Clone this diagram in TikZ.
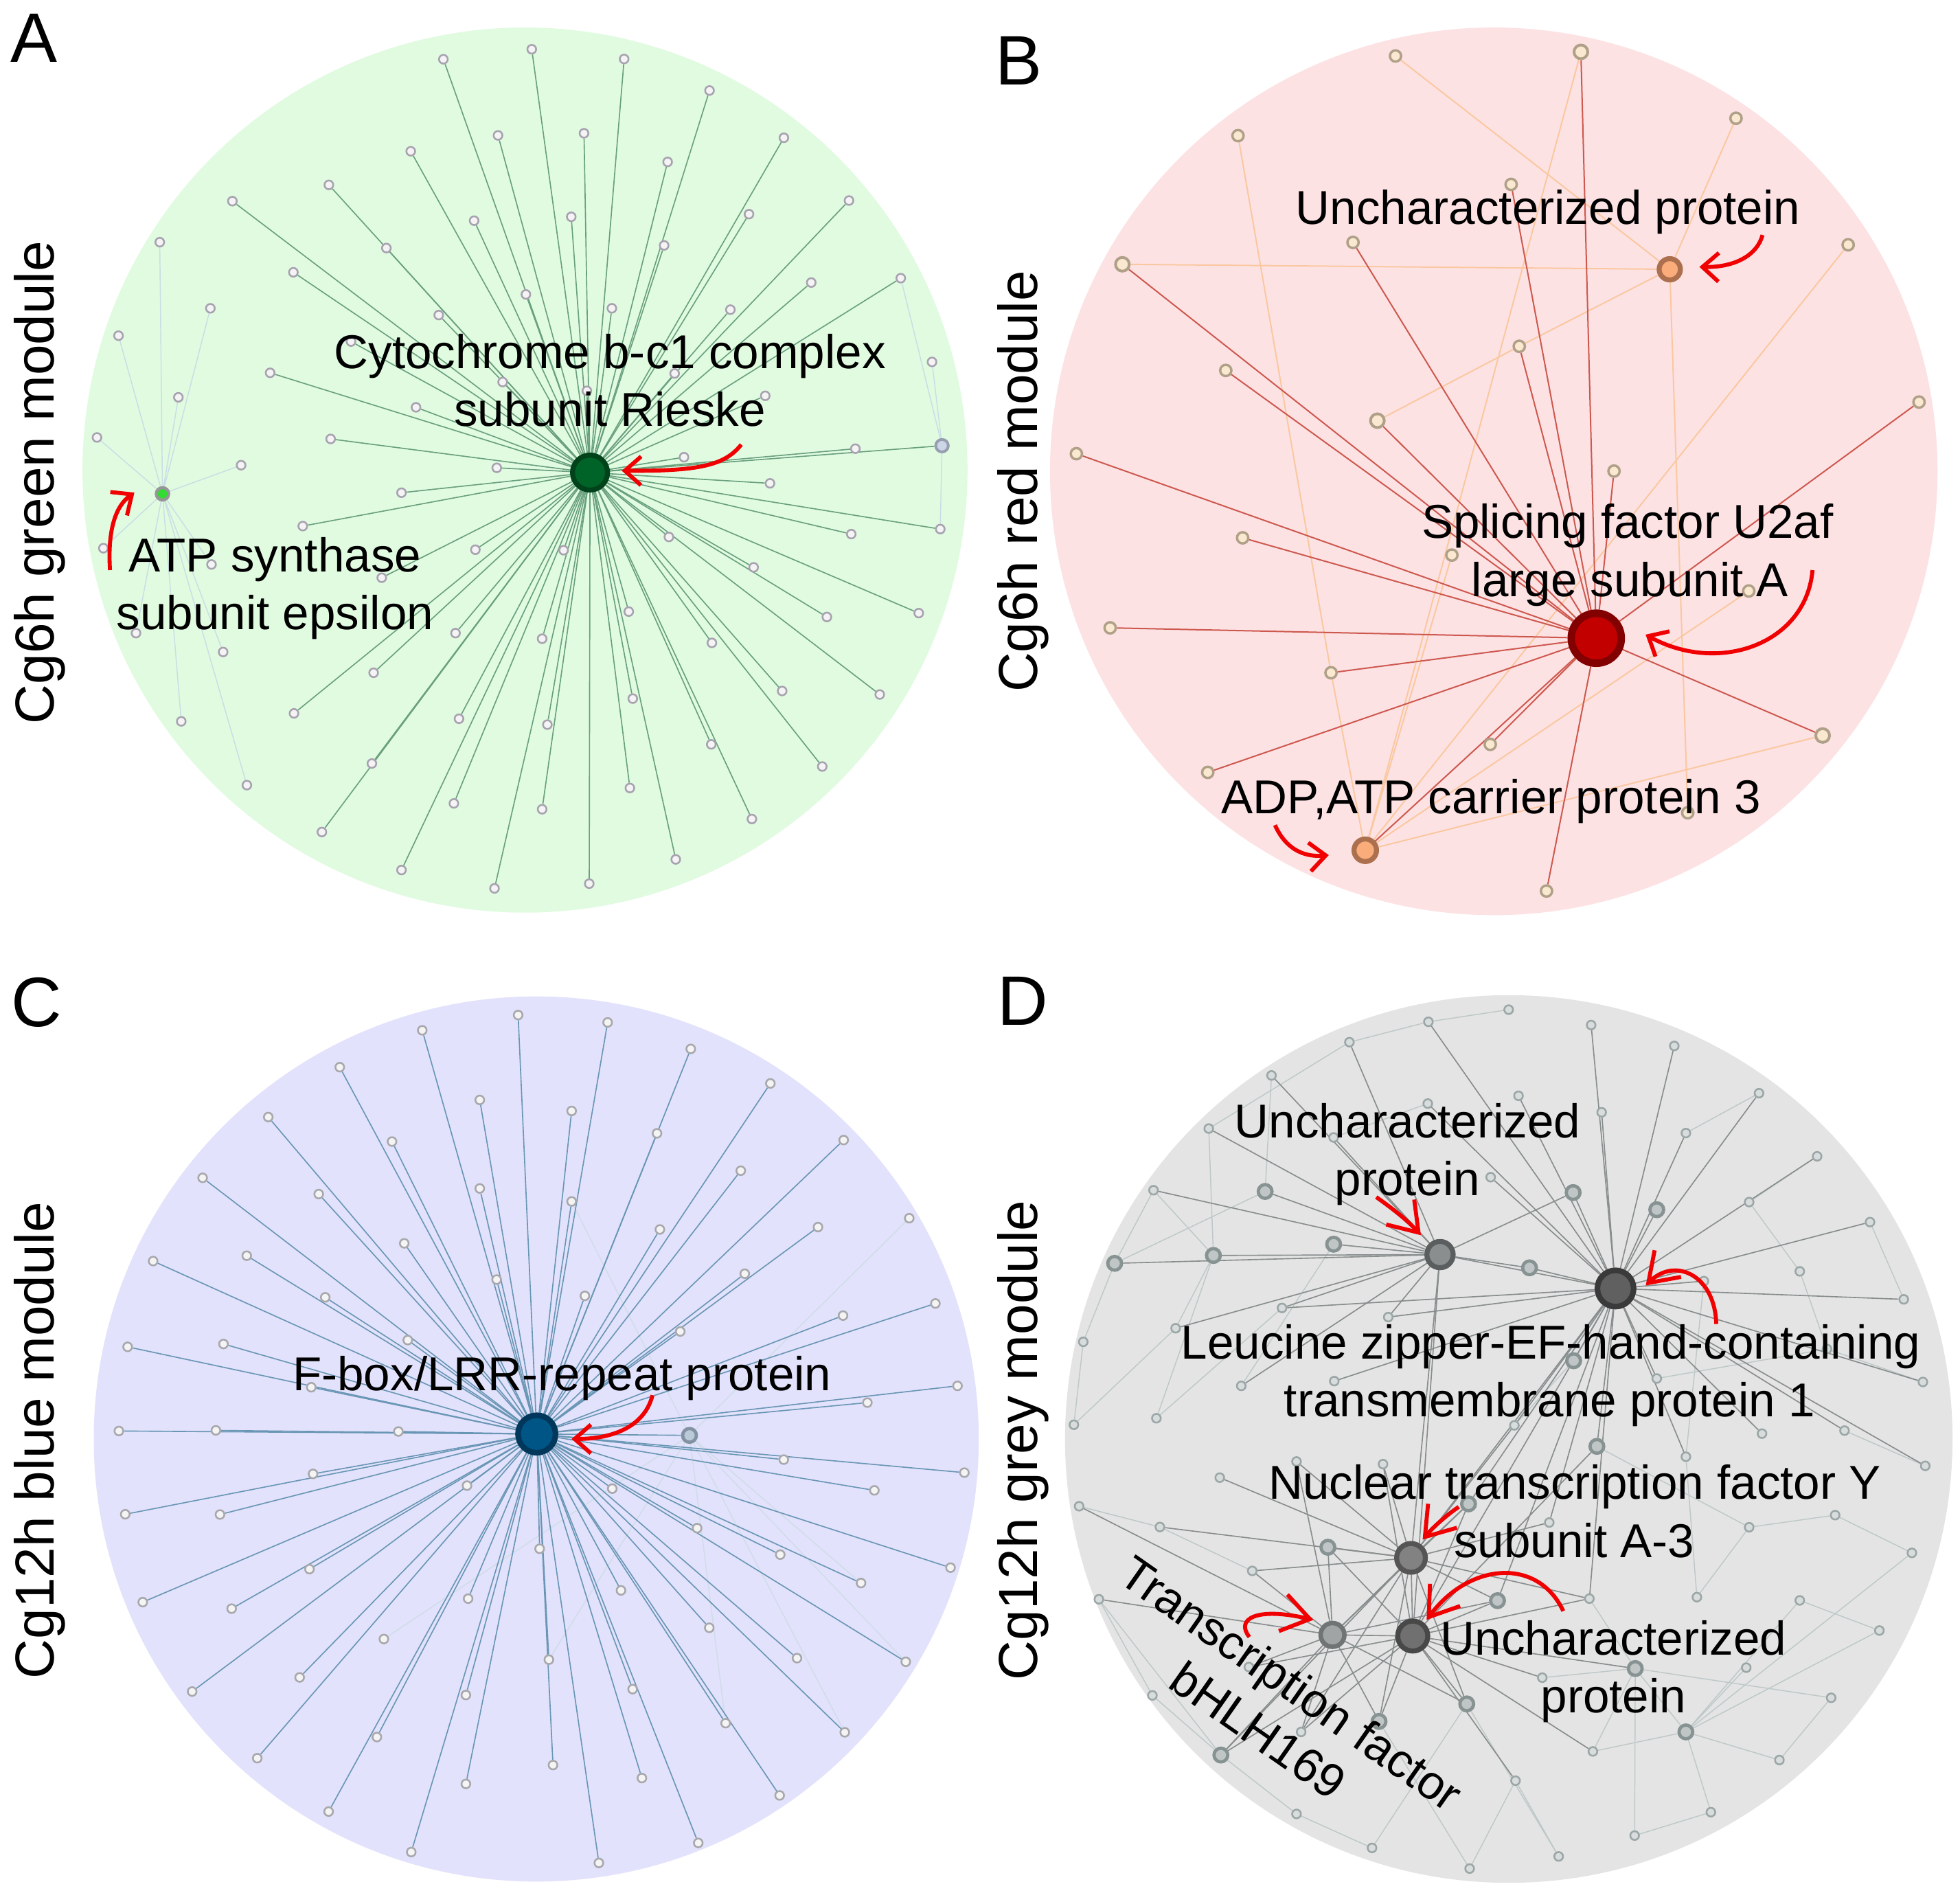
\documentclass[tikz,border=0pt]{standalone}
\usepackage{fontspec}
\setmainfont{Liberation Sans}
\usetikzlibrary{arrows.meta}
\pgfdeclarelayer{bg}
\pgfdeclarelayer{edges}
\pgfsetlayers{bg,edges,main}
\definecolor{bgA}{RGB}{225,251,225}
\definecolor{bgB}{RGB}{253,226,228}
\definecolor{bgC}{RGB}{226,226,252}
\definecolor{bgD}{RGB}{228,228,228}
\definecolor{eA}{RGB}{105,160,125}
\definecolor{eAf}{RGB}{200,222,228}
\definecolor{eBd}{RGB}{205,88,78}
\definecolor{eBl}{RGB}{250,200,160}
\definecolor{eC}{RGB}{105,150,180}
\definecolor{eCf}{RGB}{208,220,232}
\definecolor{eDd}{RGB}{135,140,140}
\definecolor{eDl}{RGB}{190,200,200}
\definecolor{arrowred}{RGB}{240,0,0}
\definecolor{nbord}{RGB}{168,162,176}
\definecolor{nfill}{RGB}{244,244,244}
\definecolor{bfill}{RGB}{250,232,208}
\definecolor{bbord}{RGB}{176,160,136}
\definecolor{dfill}{RGB}{216,220,220}
\definecolor{dbord}{RGB}{155,166,166}
\definecolor{mfill}{RGB}{192,198,198}
\definecolor{mbord}{RGB}{135,146,146}
\tikzset{
  lab/.style={font=\fontsize{38}{46}\selectfont, inner sep=0pt, anchor=base},
  side/.style={font=\fontsize{44}{50}\selectfont, inner sep=0pt, anchor=base, rotate=90},
  letter/.style={font=\fontsize{56}{60}\selectfont, inner sep=0pt, anchor=base west},
  nd/.style={circle, inner sep=0pt, minimum size=7pt, line width=1.4pt, draw=nbord, fill=nfill},
  ndB/.style={nd, minimum size=9pt, line width=1.9pt, draw=bbord, fill=bfill},
  ndBb/.style={ndB, minimum size=11pt, line width=2.2pt},
  ndD/.style={nd, draw=dbord, fill=dfill},
  ndDm/.style={nd, minimum size=11pt, line width=2.6pt, draw=mbord, fill=mfill},
  eAs/.style={draw=eA, line width=0.9pt},
  eAfs/.style={draw=eAf, line width=0.8pt},
  eBds/.style={draw=eBd, line width=1.1pt},
  eBls/.style={draw=eBl, line width=1.1pt},
  eCs/.style={draw=eC, line width=0.9pt},
  eCfs/.style={draw=eCf, line width=0.8pt},
  eDds/.style={draw=eDd, line width=0.9pt},
  eDls/.style={draw=eDl, line width=0.8pt},
  redarrow/.style={draw=arrowred, line width=3.2pt, -{Straight Barb[length=13pt,width=23pt]}},
  redarrowD/.style={draw=arrowred, line width=3.2pt, -{Straight Barb[length=22pt,width=30pt]}}
}
\begin{document}
\begin{tikzpicture}[x=1pt,y=-1pt]
\useasboundingbox (0,0) rectangle (1568,1514);
\begin{pgfonlayer}{bg}
\fill[white] (0,0) rectangle (1568,1514);
\fill[bgA] (420,376) circle (354);
\fill[bgB] (1195,377) circle (355);
\fill[bgC] (429,1151) circle (354);
\fill[bgD] (1207,1151) circle (355);
\end{pgfonlayer}

% ---------------- Panel A ----------------
\node[circle, inner sep=0pt, minimum size=28pt, line width=4pt, draw={rgb,255:red,0;green,66;blue,26}, fill={rgb,255:red,0;green,100;blue,40}] (ha) at (472,378) {};
\node[nd, minimum size=10pt, line width=2.4pt, draw={rgb,255:red,150;green,150;blue,150}, fill={rgb,255:red,50;green,220;blue,50}] (atp) at (130,395) {};
\node[nd, minimum size=10pt, line width=2.2pt, draw={rgb,255:red,150;green,158;blue,175}, fill={rgb,255:red,205;green,214;blue,230}] (ar) at (753.6,356.5) {};
\foreach \i/\x/\y in {1/354.7/47.4, 2/425.4/39.4, 3/499.3/47.2, 4/567.6/72.4, 5/398.4/108.3, 6/467.2/106.6, 7/627.1/110.2, 8/328.6/121.0, 9/534.1/129.5, 10/263.1/147.9, 11/185.9/160.9, 12/679.2/160.4, 13/379.3/176.5, 14/457.0/173.4, 15/599.2/171.3, 16/309.1/198.4, 17/531.3/196.3, 18/234.7/217.8, 19/649.0/226.0, 20/720.6/222.5, 21/420.7/235.5, 22/351.0/252.0, 23/489.5/246.6, 24/584.3/247.7, 25/280.8/273.2, 26/216.1/298.2, 27/539.7/298.7, 28/402.1/305.6, 29/469.5/312.6, 30/612.2/316.6, 31/332.8/325.8, 32/264.5/351.1, 33/684.3/358.9, 34/547.2/365.7, 35/397.4/374.2, 36/321.2/394.1, 37/616.0/386.6, 38/242.2/420.8, 39/752.2/423.2, 40/681.0/427.2, 41/535.1/429.5, 42/380.3/439.7, 43/450.9/440.1, 44/602.9/453.8, 45/305.4/462.1, 46/503.0/489.2, 47/735.0/490.4, 48/661.5/493.5, 49/364.4/506.4, 50/433.7/510.9, 51/569.5/514.2, 52/298.9/538.1, 53/625.7/552.7, 54/703.8/555.5, 55/506.2/558.8, 56/235.2/570.6, 57/367.2/574.9, 58/437.9/579.6, 59/569.0/595.4, 60/297.5/610.7, 61/657.8/613.1, 62/503.9/630.3, 63/363.1/642.6, 64/433.7/647.3, 65/601.5/655.1, 66/257.5/665.5, 67/540.6/687.4, 68/321.2/695.9, 69/395.6/710.6, 70/471.4/706.8}
  \node[nd] (a\i) at (\x,\y) {};
\foreach \i/\x/\y in {1/127.8/193.7, 2/168.3/246.6, 3/94.8/268.5, 4/142.7/317.8, 5/77.6/349.9, 6/192.9/372.1, 7/82.7/438.5, 8/169.2/451.5, 9/108.8/506.4, 10/178.5/521.5, 11/145.0/577.0, 12/197.5/628.0, 13/745.6/289.5}
  \node[nd] (f\i) at (\x,\y) {};
\begin{pgfonlayer}{edges}
\foreach \i in {1,...,70} \draw[eAs] (ha) -- (a\i);
\draw[eAs] (ha) -- (ar);
\foreach \i in {1,...,12} \draw[eAfs] (atp) -- (f\i);
\draw[eAfs] (ar) -- (f13);
\draw[eAfs] (ar) -- (a20);
\draw[eAfs] (ar) -- (a39);
\end{pgfonlayer}

% ---------------- Panel B ----------------
\node[circle, inner sep=0pt, minimum size=40pt, line width=6pt, draw={rgb,255:red,130;green,0;blue,0}, fill={rgb,255:red,195;green,0;blue,0}] (hb) at (1277,510.5) {};
\node[circle, inner sep=0pt, minimum size=17pt, line width=4pt, draw={rgb,255:red,172;green,112;blue,78}, fill={rgb,255:red,250;green,172;blue,122}] (bu) at (1335.8,215.4) {};
\node[circle, inner sep=0pt, minimum size=18pt, line width=4pt, draw={rgb,255:red,172;green,112;blue,78}, fill={rgb,255:red,250;green,172;blue,122}] (bd) at (1092.2,680.1) {};
\foreach \i/\x/\y in {1/1116.4/44.8, 3/1388.8/94.6, 4/990.4/108.5, 5/1208.9/147.5, 6/1082.4/193.9, 7/1478.5/195.8, 9/1215.4/277.0, 10/980.6/296.3, 12/1535.2/321.6, 13/861.1/362.9, 14/1291.2/376.8, 15/994.1/430.2, 16/1161.5/444.0, 17/1399.0/472.7, 18/888.1/502.2, 19/1064.8/538.1, 20/1192.2/595.4, 22/966.2/617.8, 23/1350.2/650.1, 24/1237.2/712.7}
  \node[ndB] (b\i) at (\x,\y) {};
\foreach \i/\x/\y in {2/1264.7/41.5, 8/897.9/211.4, 11/1101.9/336.5, 21/1458.1/588.3}
  \node[ndBb] (b\i) at (\x,\y) {};
\begin{pgfonlayer}{edges}
\foreach \u/\v in {b1/bu, b3/bu, b8/bu, b9/bu, b9/b11, bu/b23, b4/b19, b19/bd, b2/bd, b7/bd, b16/bd, b17/bd, b21/bd}
  \draw[eBls] (\u) -- (\v);
\foreach \i in {2,5,6,8,9,10,11,12,13,14,15,18,19,20,21,22,24} \draw[eBds] (hb) -- (b\i);
\draw[eBds] (hb) -- (bd);
\end{pgfonlayer}

% ---------------- Panel C ----------------
\node[circle, inner sep=0pt, minimum size=30pt, line width=4.5pt, draw={rgb,255:red,0;green,55;blue,90}, fill={rgb,255:red,0;green,85;blue,135}] (hc) at (429.4,1147) {};
\node[circle, inner sep=0pt, minimum size=11pt, line width=2.6pt, draw={rgb,255:red,130;green,146;blue,162}, fill={rgb,255:red,186;green,202;blue,216}] (cg) at (551.6,1148.1) {};
\foreach \i/\x/\y in {1/414.5/811.9, 2/337.8/824.1, 3/486.1/817.8, 4/552.6/839.0, 5/271.8/853.6, 6/616.3/866.6, 7/383.8/879.8, 8/457.3/888.6, 9/214.6/893.5, 10/313.6/913.1, 11/525.6/906.5, 12/674.9/911.9, 13/162.1/942.1, 14/592.6/936.4, 15/255.0/955.1, 16/383.8/950.6, 17/457.3/961.0, 18/527.9/983.4, 19/654.4/981.5, 20/323.4/994.5, 21/122.5/1008.7, 22/197.4/1004.4, 23/397.3/1023.5, 24/595.8/1018.8, 25/260.2/1037.7, 26/467.9/1036.5, 27/748.3/1042.6, 28/674.4/1052.3, 29/326.2/1071.9, 30/544.2/1065.0, 31/102.1/1077.3, 32/178.8/1075.0, 33/249.0/1109.6, 34/766.0/1108.5, 35/693.9/1121.9, 36/95.1/1144.6, 37/172.7/1144.1, 38/318.7/1145.0, 39/250.4/1178.9, 40/627.0/1167.5, 41/771.5/1177.9, 42/373.6/1188.3, 43/489.8/1190.7, 44/699.5/1192.1, 45/100.2/1211.2, 46/176.0/1211.4, 47/557.7/1222.3, 48/431.7/1238.8, 49/624.2/1243.5, 50/247.6/1255.1, 51/760.4/1253.9, 52/688.8/1266.2, 53/496.8/1272.1, 54/114.2/1281.5, 55/185.3/1286.7, 56/374.5/1278.7, 57/567.4/1302.0, 58/307.1/1311.0, 59/439.1/1327.5, 60/637.6/1326.3, 61/724.6/1329.2, 62/153.7/1353.0, 63/239.7/1341.7, 64/506.1/1351.1, 65/372.7/1355.8, 66/580.5/1378.3, 67/675.8/1385.6, 68/301.5/1389.4, 69/205.8/1406.3, 70/442.4/1411.8, 71/513.5/1422.2, 72/372.7/1426.9, 73/623.7/1436.1, 74/262.9/1449.0, 75/558.6/1474.1, 76/329.0/1481.4, 77/479.1/1490.1, 78/727.4/974.4}
  \node[nd, draw={rgb,255:red,168;green,168;blue,172}] (c\i) at (\x,\y) {};
\begin{pgfonlayer}{edges}
\foreach \i in {58,59,61,66,67,78,52,17} \draw[eCfs] (cg) -- (c\i);
\foreach \i in {1,...,57,59,60,...,77} \draw[eCs] (hc) -- (c\i);
\draw[eCs] (hc) -- (cg);
\end{pgfonlayer}

% ---------------- Panel D ----------------
\node[circle, inner sep=0pt, minimum size=29pt, line width=4.5pt, draw={rgb,255:red,58;green,58;blue,58}, fill={rgb,255:red,96;green,96;blue,96}] (dl) at (1292.4,1030.6) {};
\node[circle, inner sep=0pt, minimum size=21pt, line width=4pt, draw={rgb,255:red,90;green,94;blue,94}, fill={rgb,255:red,138;green,142;blue,142}] (du1) at (1152,1003.5) {};
\node[circle, inner sep=0pt, minimum size=23pt, line width=4pt, draw={rgb,255:red,85;green,85;blue,85}, fill={rgb,255:red,130;green,130;blue,130}] (dn) at (1128.8,1246.1) {};
\node[circle, inner sep=0pt, minimum size=24pt, line width=4pt, draw={rgb,255:red,72;green,72;blue,72}, fill={rgb,255:red,112;green,112;blue,112}] (du2) at (1130.2,1308.6) {};
\node[circle, inner sep=0pt, minimum size=19pt, line width=3.6pt, draw={rgb,255:red,112;green,116;blue,116}, fill={rgb,255:red,160;green,164;blue,164}] (db) at (1066,1307.7) {};
\foreach \i/\x/\y in {1/1012.1/953.0, 2/1258.5/953.9, 3/1325.4/967.6, 4/1066.9/995.2, 5/970.7/1004.2, 6/891.7/1010.5, 7/1223.6/1014.1, 8/1258.9/1088.4, 9/1277.5/1156.9, 10/1174.8/1202.9, 11/1062.3/1237.6, 12/1198.0/1280.3, 13/1308.2/1334.6, 14/1173.4/1362.9, 15/1103.2/1376.9, 16/1348.7/1385.3, 17/976.7/1403.8}
  \node[ndDm] (m\i) at (\x,\y) {};
\foreach \i/\x/\y in {1/1206.9/807.6, 2/1142.7/817.3, 3/1272.9/819.9, 4/1079.5/833.6, 5/1339.4/836.6, 6/1017.2/860.2, 7/1407.2/874.4, 8/1214.8/876.5, 9/1142.2/882.7, 10/1281.3/889.7, 11/967.0/902.7, 12/1066.9/909.8, 13/1348.7/906.3, 14/1453.7/924.9, 15/1192.5/941.6, 16/922.8/952.0, 17/1399.3/961.5, 18/1496.0/977.5, 19/1439.8/1016.9, 20/1363.1/1024.7, 21/1523.0/1039.3, 22/1025.6/1046.2, 23/1110.6/1053.5, 24/940.5/1062.4, 25/866.6/1073.3, 26/1461.6/1079.0, 27/1067.4/1104.7, 28/993.0/1108.5, 29/1325.4/1102.6, 30/1538.3/1105.4, 31/925.1/1134.4, 32/859.1/1139.6, 33/1211.5/1140.1, 34/1409.6/1146.7, 35/1475.6/1144.3, 36/1348.7/1165.2, 37/1540.2/1172.5, 38/1106.4/1171.1, 39/1037.2/1169.0, 40/975.8/1181.9, 41/863.3/1204.8, 42/927.9/1221.4, 43/1239.4/1217.8, 44/1399.3/1221.6, 45/1468.1/1211.9, 46/1529.5/1242.1, 47/1001.8/1256.5, 48/879.1/1279.2, 49/1271.5/1278.7, 50/1357.5/1277.5, 51/1439.8/1280.1, 52/1503.5/1304.2, 53/999.1/1333.4, 54/1397.0/1333.9, 55/1233.8/1341.9, 56/921.9/1356.1, 57/1464.9/1358.0, 58/1040.9/1385.3, 59/1274.3/1400.9, 60/1423.5/1407.8, 61/1212.4/1424.3, 62/1368.7/1449.5, 63/1037.2/1450.9, 64/1307.7/1468.2, 65/1097.6/1478.1, 66/1246.9/1484.9, 67/1175.7/1494.6}
  \node[ndD] (p\i) at (\x,\y) {};
\begin{pgfonlayer}{edges}
\foreach \u/\v in {p1/p2, p2/p4, p4/p11, p6/m1, p16/m6, m6/m1, p25/m6, p24/m5, p31/p22, p32/p24, p28/m4, p17/p14, p19/p26, p26/p29, p20/p36, p44/p50, p45/p44, p46/m16, m13/p57, m13/m16, m16/p52, m16/p60, m16/p62, m16/p51, p59/m16, p59/m13, p64/m13, p66/p61, p67/m15, p65/m14, p63/m17, p50/p36, p54/m16, p56/m17, p41/p42, p48/m17, p12/p9, p11/m5, p16/m5, p25/p32, p31/m5, p42/p47, p45/p46, p51/p52, p57/p60, p62/p64, p66/m14, m9/p44, m13/p49, p55/m13, p19/p17, p26/p30, p37/p35, p18/p21, p7/p13, p56/p48, p63/p65, p67/p61, m8/p33}
  \draw[eDls] (\u) -- (\v);
\foreach \u/\v in {dl/p2, dl/p3, dl/p5, dl/p7, dl/p8, dl/p10, dl/p13, dl/p14, dl/p18, dl/p21, dl/p22, dl/p23, dl/p15, dl/p20, dl/p29, dl/p33, dl/p34, dl/p35, dl/p36, dl/p37, dl/p30, dl/du1, dl/m2, dl/m3, dl/m7, dl/m8, dl/m9, dl/dn, dl/du2, dl/p27, dl/m12, dl/p49, dl/p43, dl/p9, dl/m10, du1/p16, du1/m1, du1/m4, du1/m5, du1/m6, du1/p11, du1/p12, du1/m2, du1/m7, du1/p24, du1/p6, du1/p4, du1/p22, du1/p23, du1/dn, du1/du2, du1/p28, dn/du2, dn/db, dn/m11, dn/m10, dn/m12, dn/p43, dn/p40, dn/p47, dn/m14, dn/m15, dn/p58, dn/m17, dn/p49, dn/p33, dn/p38, dn/p39, dn/p42, du2/db, du2/m11, du2/m14, du2/m15, du2/m12, du2/p49, du2/p55, du2/p59, du2/p58, du2/m17, du2/p53, du2/m10, du2/p61, du2/p38, du2/m9, du2/m13, db/m11, db/m14, db/m15, db/m17, db/p48, db/m12, db/p58, db/p53, db/m10, db/p47, db/p41, db/p39}
  \draw[eDds] (\u) -- (\v);
\end{pgfonlayer}

% ---------------- Labels ----------------
\node[letter] (LA) at (8.2,49.5) {A};
\node[letter] (LB) at (796,68) {B};
\node[letter] (LC) at (9,821) {C};
\node[letter] (LD) at (797.6,820) {D};
\node[side] (sA) at (43,386) {Cg6h green module};
\node[side] (sB) at (829.6,385) {Cg6h red module};
\node[side] (sC) at (43,1152) {Cg12h blue module};
\node[side] (sD) at (829.6,1152) {Cg12h grey module};

\node[lab] (tA1) at (488,294.9) {Cytochrome b-c1 complex};
\node[lab] (tA2) at (488,340.9) {subunit Rieske};
\node[lab] (tA3) at (220,457.4) {ATP synthase};
\node[lab] (tA4) at (220,503.6) {subunit epsilon};
\node[lab] (tB1) at (1238.4,179.3) {Uncharacterized protein};
\node[lab] (tB2) at (1302,430.2) {Splicing factor U2af};
\node[lab] (tB3) at (1304,477) {large subunit A};
\node[lab] (tB4) at (1193,651) {ADP,ATP carrier protein 3};
\node[lab] (tC1) at (449.6,1112) {F-box/LRR-repeat protein};
\node[lab] (tD1) at (1126,910) {Uncharacterized};
\node[lab] (tD2) at (1126,956) {protein};
\node[lab] (tD3) at (1240.6,1087.2) {Leucine zipper-EF-hand-containing};
\node[lab] (tD4) at (1239.6,1133.2) {transmembrane protein 1};
\node[lab] (tD5) at (1259.8,1199) {Nuclear transcription factor Y};
\node[lab] (tD6) at (1259.4,1246) {subunit A-3};
\node[lab] (tD7) at (1290.8,1324) {Uncharacterized};
\node[lab] (tD8) at (1290.8,1370) {protein};
\node[font=\fontsize{38}{46}\selectfont, inner sep=0pt, align=center, rotate=-35] (tD9) at (1020,1365) {Transcription factor\\bHLH169};

% ---------------- Red arrows ----------------
\coordinate (rA1s) at (593,355.6);  \coordinate (rA1e) at (497.4,376.5);
\coordinate (rA2s) at (88,456);     \coordinate (rA2e) at (107.5,394);
\coordinate (rB1s) at (1410,188);   \coordinate (rB1e) at (1359.5,213.5);
\coordinate (rB2s) at (1450,456);   \coordinate (rB2e) at (1316.5,507.6);
\coordinate (rB3s) at (1020,660);   \coordinate (rB3e) at (1063,684);
\coordinate (rC1s) at (522,1116);   \coordinate (rC1e) at (457.3,1151);
\coordinate (rD1s) at (1101,957.5); \coordinate (rD1e) at (1136.7,988);
\coordinate (rD2s) at (1373,1059);  \coordinate (rD2e) at (1316.6,1028.2);
\coordinate (rD3s) at (1167,1205.3);\coordinate (rD3e) at (1138.1,1231.5);
\coordinate (rD4s) at (1250.6,1288.6); \coordinate (rD4e) at (1141.3,1295.7);
\coordinate (rD5s) at (999.5,1309.4);  \coordinate (rD5e) at (1050.7,1295.7);
\draw[redarrow] (rA1s) .. controls (580,372) and (560,377) .. (rA1e);
\draw[redarrow] (rA2s) .. controls (86,425) and (92,405) .. (rA2e);
\draw[redarrow] (rB1s) .. controls (1405,206) and (1385,214) .. (rB1e);
\draw[redarrow] (rB2s) .. controls (1445,515) and (1375,540) .. (rB2e);
\draw[redarrow] (rB3s) .. controls (1028,678) and (1042,686) .. (rB3e);
\draw[redarrow] (rC1s) .. controls (516,1140) and (492,1151) .. (rC1e);
\draw[redarrowD] (rD1s) .. controls (1113,966) and (1126,976) .. (rD1e);
\draw[redarrowD] (rD2s) .. controls (1372,1020) and (1340,1005) .. (rD2e);
\draw[redarrowD] (rD3s) .. controls (1157,1212) and (1146,1222) .. (rD3e);
\draw[redarrowD] (rD4s) .. controls (1230,1245) and (1175,1250) .. (rD4e);
\draw[redarrowD] (rD5s) .. controls (988,1295) and (1005,1285) .. (rD5e);
\end{tikzpicture}
\end{document}
